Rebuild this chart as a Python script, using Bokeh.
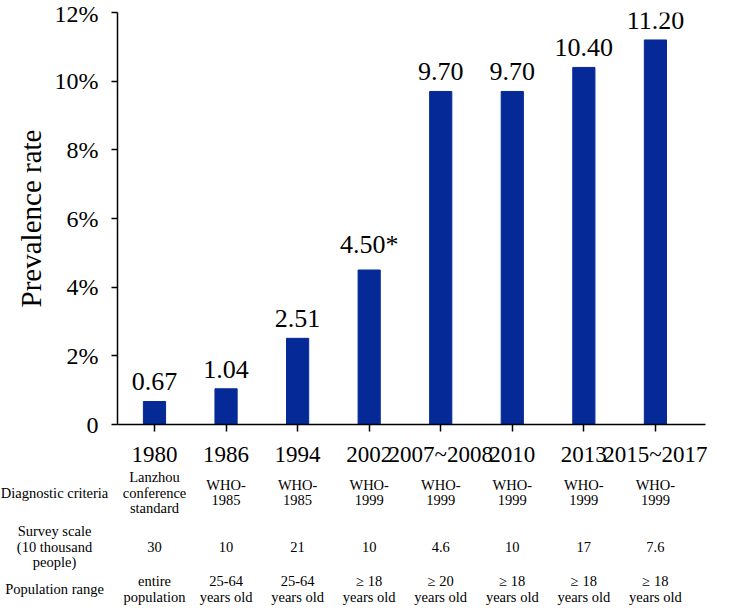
from bokeh.plotting import figure
from bokeh.layouts import column
from bokeh.models import Range1d, FixedTicker
from bokeh.core.properties import value
from bokeh.embed import file_html
from bokeh.resources import INLINE

# ---- data ----
categories = ["1980", "1986", "1994", "2002", "2007~2008", "2010", "2013", "2015~2017"]
prevalence = [0.67, 1.04, 2.51, 4.50, 9.70, 9.70, 10.40, 11.20]
value_labels = ["0.67", "1.04", "2.51", "4.50*", "9.70", "9.70", "10.40", "11.20"]
y_ticks = [0, 2, 4, 6, 8, 10, 12]
y_tick_labels = ["0", "2%", "4%", "6%", "8%", "10%", "12%"]

diagnostic = ["Lanzhou\nconference\nstandard", "WHO-\n1985", "WHO-\n1985", "WHO-\n1999",
              "WHO-\n1999", "WHO-\n1999", "WHO-\n1999", "WHO-\n1999"]
survey_scale = ["30", "10", "21", "10", "4.6", "10", "17", "7.6"]
population = ["entire\npopulation", "25-64\nyears old", "25-64\nyears old", "\u2265 18\nyears old",
              "\u2265 20\nyears old", "\u2265 18\nyears old", "\u2265 18\nyears old", "\u2265 18\nyears old"]
row_labels = ["Diagnostic criteria", "Survey scale\n(10 thousand\npeople)", "Population range"]

# ---- layout ----
W = 756
H_TOP, H_TABLE = 470, 138
B_LEFT, B_RIGHT, B_TOP, B_BOTTOM = 117, 51, 12, 46
X_START, X_END = -0.517, 7.70
Y_MAX = 12
frame_h = H_TOP - B_TOP - B_BOTTOM
frame_w = W - B_LEFT - B_RIGHT
px_y = frame_h / Y_MAX
px_x = frame_w / (X_END - X_START)
LABEL_GAP = 11 / px_y
row_centers_px = [22, 76, 118.5]   # vertical centre of each table row inside the table strip
LINE_H = 15.5
row_label_x = X_START + (54 - B_LEFT) / px_x

FONT = value("Liberation Serif")
xs = list(range(len(categories)))

p = figure(width=W, height=H_TOP, x_range=Range1d(X_START, X_END), y_range=Range1d(0, Y_MAX),
           output_backend="svg", toolbar_location=None,
           min_border_left=B_LEFT, min_border_right=B_RIGHT,
           min_border_top=B_TOP, min_border_bottom=B_BOTTOM)
p.outline_line_color = None
p.xgrid.visible = False
p.ygrid.visible = False
p.frame_align = False

p.vbar(x=xs, top=prevalence, width=0.31, color="#052A98")

p.text(x=xs, y=[v + LABEL_GAP for v in prevalence], text=value_labels, text_align="center",
       text_baseline="bottom", text_font=FONT, text_font_size="26px", text_color="black")

for ax in (p.xaxis[0], p.yaxis[0]):
    ax.axis_line_width = 1.5
    ax.axis_line_color = "black"
    ax.major_tick_line_color = "black"
    ax.major_tick_line_width = 1.5
    ax.major_tick_in = 0
    ax.minor_tick_line_color = None
    ax.major_label_text_font = "Liberation Serif"
    ax.major_label_text_color = "black"

p.yaxis.ticker = FixedTicker(ticks=y_ticks)
p.yaxis.major_label_overrides = {t: l for t, l in zip(y_ticks, y_tick_labels)}
p.yaxis.major_tick_out = 6
p.yaxis.major_label_standoff = 13
p.yaxis.major_label_text_font_size = "24px"
p.yaxis.axis_label = "Prevalence rate"
p.yaxis.axis_label_text_font = "Liberation Serif"
p.yaxis.axis_label_text_font_style = "normal"
p.yaxis.axis_label_text_font_size = "29px"
p.yaxis.axis_label_text_color = "black"
p.yaxis.axis_label_standoff = 5

p.xaxis.ticker = FixedTicker(ticks=xs)
p.xaxis.major_label_overrides = {i: c for i, c in zip(xs, categories)}
p.xaxis.major_tick_out = 7
p.xaxis.major_label_standoff = 10
p.xaxis.major_label_text_font_size = "23px"

# ---- table strip below the chart ----
t_start = X_START - B_LEFT / px_x
t_end = X_END + B_RIGHT / px_x
t = figure(width=W, height=H_TABLE, x_range=Range1d(t_start, t_end), y_range=Range1d(H_TABLE, 0),
           x_axis_type=None, y_axis_type=None, output_backend="svg", toolbar_location=None,
           min_border=0, min_border_left=0, min_border_right=0, min_border_top=0, min_border_bottom=0)
t.outline_line_color = None
t.frame_align = False


def draw_cells(xpos, cells, centers):
    lx, ly, lt = [], [], []
    for x, cell, yc in zip(xpos, cells, centers):
        lines = cell.split("\n")
        n = len(lines)
        for k, line in enumerate(lines):
            lx.append(x)
            ly.append(yc + (k - (n - 1) / 2) * LINE_H)
            lt.append(line)
    t.text(x=lx, y=ly, text=lt, text_align="center", text_baseline="middle",
           text_font=FONT, text_font_size="14.5px", text_color="black")


for texts, yc in zip([diagnostic, survey_scale, population], row_centers_px):
    draw_cells(xs, texts, [yc] * len(xs))

draw_cells([row_label_x] * len(row_labels), row_labels, row_centers_px)

layout = column(p, t, spacing=0)
open("out.html", "w").write(file_html(layout, INLINE))
